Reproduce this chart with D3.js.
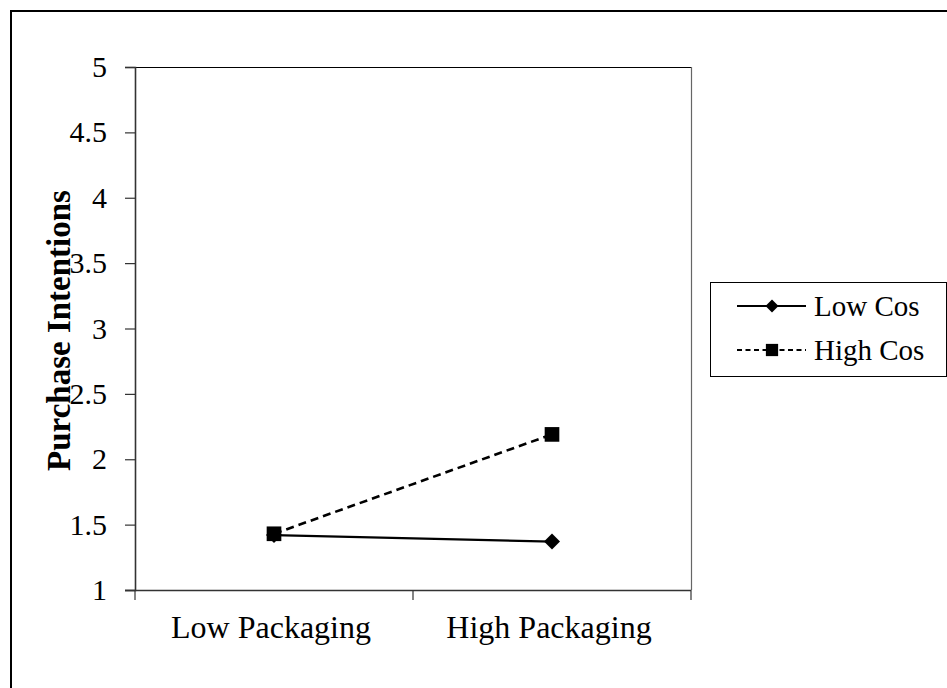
<!DOCTYPE html>
<html>
<head>
<meta charset="utf-8">
<script src="https://cdn.jsdelivr.net/npm/d3@7"></script>
<style>
html,body{margin:0;padding:0;background:#fff;}
svg{display:block;}
text{font-family:"Liberation Serif","Times New Roman",serif;fill:#000;}
</style>
</head>
<body>
<svg id="chart" width="947" height="688"></svg>
<script>
const categories = ["Low Packaging", "High Packaging"];
const seriesNames = ["Low Cos", "High Cos"];
const lowCos = [1.42, 1.37];
const highCos = [1.43, 2.19];
const yTicks = [1, 1.5, 2, 2.5, 3, 3.5, 4, 4.5, 5];
const yTitle = "Purchase Intentions";

(function () {
const svg = d3.select("#chart");
// outer frame
svg.append("rect").attr("x", 11).attr("y", 11).attr("width", 960).attr("height", 700)
  .attr("fill", "none").attr("stroke", "#000").attr("stroke-width", 2);

const pL = 135, pR = 691, pT = 67, pB = 590;
const x = d3.scaleBand().domain(categories).range([pL, pR]);
const y = d3.scaleLinear().domain([1, 5]).range([pB, pT]);

// plot area border top/right
svg.append("line").attr("x1", pL).attr("x2", pR).attr("y1", pT + 0.5).attr("y2", pT + 0.5)
  .attr("stroke", "#000").attr("stroke-width", 1);
svg.append("line").attr("x1", pR + 0.5).attr("x2", pR + 0.5).attr("y1", pT).attr("y2", pB)
  .attr("stroke", "#666").attr("stroke-width", 1.2);

// Y axis
const yAxis = svg.append("g").attr("transform", `translate(${pL},0)`)
  .call(d3.axisLeft(y).tickValues(yTicks).tickFormat(d3.format("")).tickSize(10).tickPadding(18));
yAxis.select(".domain").attr("stroke", "#333").attr("stroke-width", 1.6);
yAxis.selectAll(".tick line").attr("stroke", "#333").attr("stroke-width", 1.2);
yAxis.selectAll("text").style("font-size", "30px").attr("font-family", "Liberation Serif, serif").attr("fill", "#000");

// X axis
const xAxis = svg.append("g").attr("transform", `translate(0,${pB})`)
  .call(d3.axisBottom(x).tickSize(0).tickPadding(25));
xAxis.select(".domain").remove();
xAxis.selectAll("text").style("font-size", "32px").attr("font-family", "Liberation Serif, serif")
  .attr("fill", "#000").attr("dx", -3);
svg.append("line").attr("x1", pL - 10).attr("x2", pR).attr("y1", pB + 0.5).attr("y2", pB + 0.5)
  .attr("stroke", "#333").attr("stroke-width", 1.4);
const boundaries = [pL, pL + x.bandwidth(), pR];
svg.selectAll(".xt").data(boundaries).enter().append("line")
  .attr("x1", d => d).attr("x2", d => d).attr("y1", pB).attr("y2", pB + 10)
  .attr("stroke", "#333").attr("stroke-width", 1.2);

// Y title
svg.append("text").attr("transform", `translate(70,${(pT + pB) / 2 + 2}) rotate(-90)`)
  .attr("text-anchor", "middle").style("font-size", "33px").style("font-weight", "bold").text(yTitle);

const cx = d => x(d) + x.bandwidth() / 2;
const line = d3.line().x(d => cx(d.c)).y(d => y(d.v));
const lowData = categories.map((c, i) => ({c, v: lowCos[i]}));
const highData = categories.map((c, i) => ({c, v: highCos[i]}));

svg.append("path").attr("d", line(lowData)).attr("fill", "none").attr("stroke", "#000").attr("stroke-width", 2.2);
svg.append("path").attr("d", line(highData)).attr("fill", "none").attr("stroke", "#000").attr("stroke-width", 2.6)
  .attr("stroke-dasharray", "8,5");

const dia = r => `M0,${-r}L${r},0L0,${r}L${-r},0Z`;
const square = d3.symbol().type(d3.symbolSquare).size(215);
svg.selectAll(".dia").data(lowData).enter().append("path")
  .attr("d", dia(8)).attr("transform", d => `translate(${cx(d.c)},${y(d.v)})`).attr("fill", "#000");
svg.selectAll(".sq").data(highData).enter().append("path")
  .attr("d", square).attr("transform", d => `translate(${cx(d.c)},${y(d.v)})`).attr("fill", "#000");

// Legend
const lg = svg.append("g");
lg.append("rect").attr("x", 710.5).attr("y", 282.5).attr("width", 236).attr("height", 94)
  .attr("fill", "none").attr("stroke", "#000").attr("stroke-width", 1);
const rows = [{name: seriesNames[0], dash: null, d: dia(6.5), yy: 306},
              {name: seriesNames[1], dash: "5,3.5", d: d3.symbol().type(d3.symbolSquare).size(150)(), yy: 350}];
rows.forEach(r => {
  lg.append("line").attr("x1", 737).attr("x2", 806).attr("y1", r.yy).attr("y2", r.yy)
    .attr("stroke", "#000").attr("stroke-width", 2).attr("stroke-dasharray", r.dash);
  lg.append("path").attr("d", r.d).attr("transform", `translate(772,${r.yy})`).attr("fill", "#000");
  lg.append("text").attr("x", 814).attr("y", r.yy).attr("dy", "0.35em").style("font-size", "29px").text(r.name);
});
})();
</script>
</body>
</html>
